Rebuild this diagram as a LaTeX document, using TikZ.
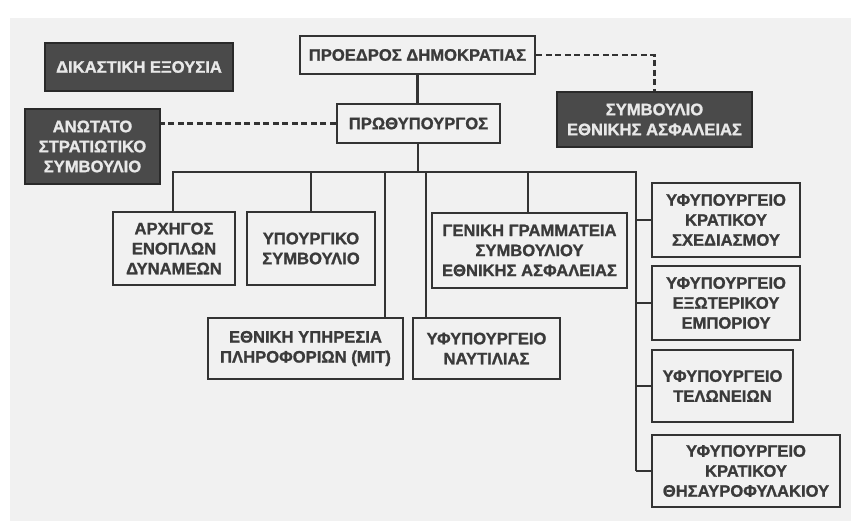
\documentclass[tikz,border=0pt]{standalone}
\usepackage{fontspec}
\setmainfont{Liberation Sans}
\newfontfamily\boxfont{Liberation Sans Bold}[FakeBold=1.2]
\definecolor{bgc}{HTML}{F1F1F1}
\definecolor{ln}{HTML}{333333}
\definecolor{txt}{HTML}{3A3A3A}
\definecolor{darkfill}{HTML}{4A4A4A}
\definecolor{darkln}{HTML}{2A2A2A}
\definecolor{lighttxt}{HTML}{E8E8E8}
\begin{document}
\begin{tikzpicture}[x=1pt,y=-1pt,
  box/.style={draw=ln, line width=2.6pt, text=txt, align=center, inner sep=0pt,
    font=\boxfont\fontsize{16.6}{20}\selectfont},
  darkbox/.style={box, draw=darkln, fill=darkfill, text=lighttxt},
  conn/.style={draw=ln, line width=2.3pt},
  dconn/.style={draw=ln, line width=2.2pt, dash pattern=on 6pt off 3.5pt}]
\useasboundingbox (0,0) rectangle (851,521);
\fill[bgc] (0,0) rectangle (851,521);
\fill[white] (0,0) rectangle (851,18);
\fill[white] (0,0) rectangle (10,521);
% top level
\node[box, minimum width=235pt, minimum height=38pt] (pres) at (417.5,55) {ΠΡΟΕΔΡΟΣ ΔΗΜΟΚΡΑΤΙΑΣ};
\node[darkbox, minimum width=188pt, minimum height=48pt] (dik) at (139,67) {ΔΙΚΑΣΤΙΚΗ ΕΞΟΥΣΙΑ};
\node[box, minimum width=163pt, minimum height=39pt] (pm) at (418.5,123.5) {ΠΡΩΘΥΠΟΥΡΓΟΣ};
\node[darkbox, minimum width=135pt, minimum height=75pt] (anot) at (92.5,146.5) {ΑΝΩΤΑΤΟ\\ΣΤΡΑΤΙΩΤΙΚΟ\\ΣΥΜΒΟΥΛΙΟ};
\node[darkbox, minimum width=195pt, minimum height=55pt] (syme) at (654.5,119.5) {ΣΥΜΒΟΥΛΙΟ\\ΕΘΝΙΚΗΣ ΑΣΦΑΛΕΙΑΣ};
% second level
\node[box, minimum width=122pt, minimum height=73pt] (arch) at (174,248.5) {ΑΡΧΗΓΟΣ\\ΕΝΟΠΛΩΝ\\ΔΥΝΑΜΕΩΝ};
\node[box, minimum width=128pt, minimum height=73pt] (ypoy) at (311,248.5) {ΥΠΟΥΡΓΙΚΟ\\ΣΥΜΒΟΥΛΙΟ};
\node[box, minimum width=195pt, minimum height=75pt] (gen) at (529.5,250.5) {ΓΕΝΙΚΗ ΓΡΑΜΜΑΤΕΙΑ\\ΣΥΜΒΟΥΛΙΟΥ\\ΕΘΝΙΚΗΣ ΑΣΦΑΛΕΙΑΣ};
\node[box, minimum width=195pt, minimum height=61pt] (ethn) at (305.5,348.5) {ΕΘΝΙΚΗ ΥΠΗΡΕΣΙΑ\\ΠΛΗΡΟΦΟΡΙΩΝ (ΜΙΤ)};
\node[box, minimum width=147pt, minimum height=61pt] (nayt) at (486.5,348.5) {ΥΦΥΠΟΥΡΓΕΙΟ\\ΝΑΥΤΙΛΙΑΣ};
% right column
\node[box, minimum width=148pt, minimum height=74pt] (ksx) at (726,220) {ΥΦΥΠΟΥΡΓΕΙΟ\\ΚΡΑΤΙΚΟΥ\\ΣΧΕΔΙΑΣΜΟΥ};
\node[box, minimum width=148pt, minimum height=74pt] (exo) at (726,303) {ΥΦΥΠΟΥΡΓΕΙΟ\\ΕΞΩΤΕΡΙΚΟΥ\\ΕΜΠΟΡΙΟΥ};
\node[box, minimum width=141pt, minimum height=72pt] (tel) at (722.5,386) {ΥΦΥΠΟΥΡΓΕΙΟ\\ΤΕΛΩΝΕΙΩΝ};
\node[box, minimum width=188pt, minimum height=72pt] (thi) at (746,471) {ΥΦΥΠΟΥΡΓΕΙΟ\\ΚΡΑΤΙΚΟΥ\\ΘΗΣΑΥΡΟΦΥΛΑΚΙΟΥ};
% bus coordinates
\coordinate (busL) at (173,172);
\coordinate (busR) at (636,172);
\coordinate (busM) at (418,172);
\coordinate (d3) at (385,172);
\coordinate (d4) at (426,172);
\coordinate (d5) at (528,172);
\coordinate (rEnd) at (636,471);
% solid connectors
\draw[conn] (pres.south) -- (pres.south |- pm.north);
\draw[conn] (pm.south -| busM) -- (busM);
\draw[conn] (busL |- arch.north) -- (busL) -- (busR) -- (rEnd);
\draw[conn] (ypoy.north |- busL) -- (ypoy.north);
\draw[conn] (d3) -- (d3 |- ethn.north);
\draw[conn] (d4) -- (d4 |- nayt.north);
\draw[conn] (d5) -- (d5 |- gen.north);
\draw[conn] (busR |- ksx.west) -- (ksx.west);
\draw[conn] (busR |- exo.west) -- (exo.west);
\draw[conn] (busR |- tel.west) -- (tel.west);
\draw[conn] (busR |- thi.west) -- (thi.west);
% dashed connectors
\draw[dconn] (pm.west) -- (pm.west -| anot.east);
\draw[dconn] (pres.east) -| (syme.north);
\end{tikzpicture}
\end{document}
